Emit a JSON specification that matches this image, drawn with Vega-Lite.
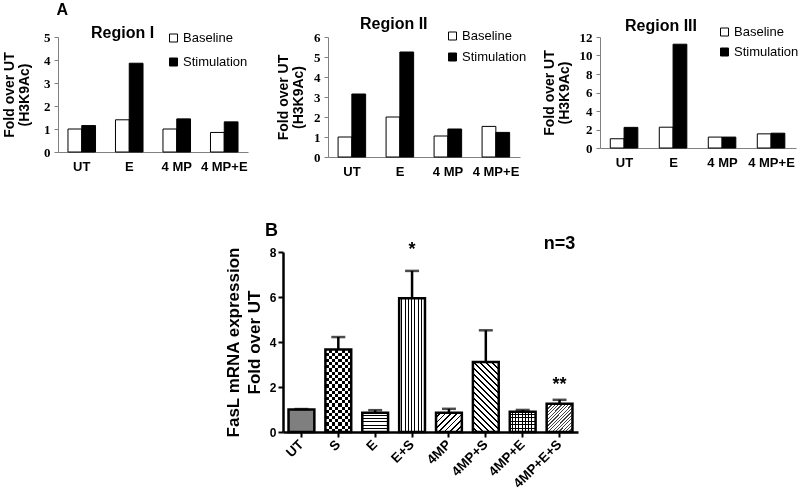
{
"$schema": "https://vega.github.io/schema/vega-lite/v6.json",
"background": "white",
"padding": {"left": 2, "top": 2, "right": 0, "bottom": 0},
"config": {"view": {"stroke": null}, "font": "Liberation Sans"},
"bounds": "flush",
"spacing": 215,
"vconcat": [
{
"bounds": "flush",
"spacing": 80,
"title": {"text": "A", "anchor": "start", "fontSize": 16, "font": "Liberation Sans", "fontWeight": "bold", "dx": 54, "offset": -2, "color": "black"},
"resolve": {"scale": {"fill": "independent"}, "legend": {"fill": "independent"}},
"hconcat": [
{
"width": 190, "height": 115,
"title": {"text": "Region I", "anchor": "start", "frame": "group", "dx": 33, "offset": -9.5, "fontSize": 16, "fontWeight": "bold", "font": "Liberation Sans", "color": "black"},
"data": {"values": [
{"cond": "UT", "series": "Baseline", "v": 1.0},
{"cond": "UT", "series": "Stimulation", "v": 1.15},
{"cond": "E", "series": "Baseline", "v": 1.4},
{"cond": "E", "series": "Stimulation", "v": 3.86},
{"cond": "4 MP", "series": "Baseline", "v": 1.0},
{"cond": "4 MP", "series": "Stimulation", "v": 1.44},
{"cond": "4 MP+E", "series": "Baseline", "v": 0.85},
{"cond": "4 MP+E", "series": "Stimulation", "v": 1.31}
]},
"mark": {"type": "bar", "stroke": "black", "strokeWidth": 1},
"encoding": {
"x": {"field": "cond", "type": "nominal", "sort": null, "scale": {"paddingInner": 0.42, "paddingOuter": 0.21},
"axis": {"title": null, "labelAngle": 0, "labelFont": "Liberation Sans", "labelFontWeight": "bold", "labelFontSize": 13, "labelColor": "black", "ticks": false, "labelPadding": 8, "domainColor": "#808080"}},
"xOffset": {"field": "series", "type": "nominal", "sort": null, "scale": {"paddingInner": 0}},
"y": {"field": "v", "type": "quantitative", "scale": {"domain": [0, 5], "nice": false},
"axis": {"values": [0, 1, 2, 3, 4, 5], "grid": false, "title": ["Fold over UT", "(H3K9Ac)"], "titleFont": "Liberation Sans", "titleFontSize": 14, "titleFontWeight": "bold", "titleLineHeight": 15, "titlePadding": 12, "titleColor": "black", "labelFont": "Liberation Serif", "labelFontWeight": "bold", "labelFontSize": 13, "labelColor": "black", "labelPadding": 4, "tickSize": 4, "tickColor": "#808080", "domainColor": "#808080"}},
"fill": {"field": "series", "type": "nominal", "scale": {"domain": ["Baseline", "Stimulation"], "range": ["white", "black"]},
"legend": {"orient": "none", "legendX": 109, "legendY": -5.5, "title": null, "symbolType": "square", "symbolSize": 64, "symbolStrokeColor": "black", "symbolStrokeWidth": 1, "labelFontSize": 13, "labelFont": "Liberation Sans", "labelColor": "black", "labelOffset": 3, "rowPadding": 10, "padding": 0}}
}
},
{
"width": 192, "height": 120,
"title": {"text": "Region II", "anchor": "start", "frame": "group", "dx": 32, "offset": -2.5, "fontSize": 16, "fontWeight": "bold", "font": "Liberation Sans", "color": "black"},
"data": {"values": [
{"cond": "UT", "series": "Baseline", "v": 1.0},
{"cond": "UT", "series": "Stimulation", "v": 3.15},
{"cond": "E", "series": "Baseline", "v": 2.0},
{"cond": "E", "series": "Stimulation", "v": 5.25},
{"cond": "4 MP", "series": "Baseline", "v": 1.05},
{"cond": "4 MP", "series": "Stimulation", "v": 1.4},
{"cond": "4 MP+E", "series": "Baseline", "v": 1.53},
{"cond": "4 MP+E", "series": "Stimulation", "v": 1.23}
]},
"mark": {"type": "bar", "stroke": "black", "strokeWidth": 1},
"encoding": {
"x": {"field": "cond", "type": "nominal", "sort": null, "scale": {"paddingInner": 0.42, "paddingOuter": 0.21},
"axis": {"title": null, "labelAngle": 0, "labelFont": "Liberation Sans", "labelFontWeight": "bold", "labelFontSize": 13, "labelColor": "black", "ticks": false, "labelPadding": 8, "domainColor": "#808080"}},
"xOffset": {"field": "series", "type": "nominal", "sort": null, "scale": {"paddingInner": 0}},
"y": {"field": "v", "type": "quantitative", "scale": {"domain": [0, 6], "nice": false},
"axis": {"values": [0, 1, 2, 3, 4, 5, 6], "grid": false, "title": ["Fold over UT", "(H3K9Ac)"], "titleFont": "Liberation Sans", "titleFontSize": 14, "titleFontWeight": "bold", "titleLineHeight": 15, "titlePadding": 8, "titleColor": "black", "labelFont": "Liberation Serif", "labelFontWeight": "bold", "labelFontSize": 13, "labelColor": "black", "labelPadding": 4, "tickSize": 4, "tickColor": "#808080", "domainColor": "#808080"}},
"fill": {"field": "series", "type": "nominal", "scale": {"domain": ["Baseline", "Stimulation"], "range": ["white", "black"]},
"legend": {"orient": "none", "legendX": 118, "legendY": -7.5, "title": null, "symbolType": "square", "symbolSize": 64, "symbolStrokeColor": "black", "symbolStrokeWidth": 1, "labelFontSize": 13, "labelFont": "Liberation Sans", "labelColor": "black", "labelOffset": 3, "rowPadding": 7, "padding": 0}}
}
},
{
"width": 196, "height": 111,
"title": {"text": "Region III", "anchor": "start", "frame": "group", "dx": 25, "offset": -8.5, "fontSize": 16, "fontWeight": "bold", "font": "Liberation Sans", "color": "black"},
"data": {"values": [
{"cond": "UT", "series": "Baseline", "v": 1.0},
{"cond": "UT", "series": "Stimulation", "v": 2.23},
{"cond": "E", "series": "Baseline", "v": 2.25},
{"cond": "E", "series": "Stimulation", "v": 11.22},
{"cond": "4 MP", "series": "Baseline", "v": 1.18},
{"cond": "4 MP", "series": "Stimulation", "v": 1.18},
{"cond": "4 MP+E", "series": "Baseline", "v": 1.53},
{"cond": "4 MP+E", "series": "Stimulation", "v": 1.6}
]},
"mark": {"type": "bar", "stroke": "black", "strokeWidth": 1},
"encoding": {
"x": {"field": "cond", "type": "nominal", "sort": null, "scale": {"paddingInner": 0.42, "paddingOuter": 0.21},
"axis": {"title": null, "labelAngle": 0, "labelFont": "Liberation Sans", "labelFontWeight": "bold", "labelFontSize": 13, "labelColor": "black", "ticks": false, "labelPadding": 8, "domainColor": "#808080"}},
"xOffset": {"field": "series", "type": "nominal", "sort": null, "scale": {"paddingInner": 0}},
"y": {"field": "v", "type": "quantitative", "scale": {"domain": [0, 12], "nice": false},
"axis": {"values": [0, 2, 4, 6, 8, 10, 12], "grid": false, "title": ["Fold over UT", "(H3K9Ac)"], "titleFont": "Liberation Sans", "titleFontSize": 14, "titleFontWeight": "bold", "titleLineHeight": 15, "titlePadding": 8, "titleColor": "black", "labelFont": "Liberation Serif", "labelFontWeight": "bold", "labelFontSize": 13, "labelColor": "black", "labelPadding": 4, "tickSize": 4, "tickColor": "#808080", "domainColor": "#808080"}},
"fill": {"field": "series", "type": "nominal", "scale": {"domain": ["Baseline", "Stimulation"], "range": ["white", "black"]},
"legend": {"orient": "none", "legendX": 118, "legendY": -11.5, "title": null, "symbolType": "square", "symbolSize": 64, "symbolStrokeColor": "black", "symbolStrokeWidth": 1, "labelFontSize": 13, "labelFont": "Liberation Sans", "labelColor": "black", "labelOffset": 3, "rowPadding": 6, "padding": 0}}
}
}
]
},
{
"bounds": "flush",
"spacing": 0,
"hconcat": [
{
"width": 225, "height": 10,
"data": {"values": [{}]},
"mark": {"type": "text", "opacity": 0},
"encoding": {"text": {"value": ""}}
},
{
"width": 295, "height": 180,
"title": {"text": "B", "anchor": "start", "frame": "group", "dx": -18, "offset": -5, "fontSize": 18, "fontWeight": "bold", "font": "Liberation Sans", "color": "black"},
"data": {"values": [
{"cond": "UT", "v": 1.0, "upper": 1.02},
{"cond": "S", "v": 3.67, "upper": 4.22},
{"cond": "E", "v": 0.86, "upper": 0.97},
{"cond": "E+S", "v": 5.94, "upper": 7.16},
{"cond": "4MP", "v": 0.86, "upper": 1.03},
{"cond": "4MP+S", "v": 3.11, "upper": 4.52},
{"cond": "4MP+E", "v": 0.9, "upper": 0.98},
{"cond": "4MP+E+S", "v": 1.26, "upper": 1.43}
]},
"encoding": {
"x": {"field": "cond", "type": "nominal", "sort": null, "scale": {"domain": ["UT", "S", "E", "E+S", "4MP", "4MP+S", "4MP+E", "4MP+E+S"], "paddingInner": 0.3, "paddingOuter": 0.15},
"axis": {"title": null, "labelAngle": -45, "labelAlign": "right", "labelBaseline": "middle", "labelFontWeight": "bold", "labelFontSize": 13.5, "labelColor": "black", "labelPadding": 5, "tickSize": 5, "tickWidth": 2, "tickColor": "black", "domainWidth": 2.5, "domainColor": "black"}},
"y": {"field": "v", "type": "quantitative", "scale": {"domain": [0, 8], "nice": false},
"title": ["FasL mRNA expression", "Fold over UT"],
"axis": {"values": [0, 2, 4, 6, 8], "grid": false, "titleFontSize": 17, "titleFontWeight": "bold", "titleLineHeight": 21, "titlePadding": 6, "titleColor": "black", "labelFontWeight": "bold", "labelFontSize": 12, "labelColor": "black", "labelPadding": 2, "tickSize": 5, "tickWidth": 2, "tickColor": "black", "domainWidth": 2.5, "domainColor": "black"}}
},
"layer": [
{"transform": [{"filter": "datum.cond == 'UT'"}], "mark": {"type": "bar", "fill": "#7f7f7f"}},
{"transform": [{"filter": "datum.cond == 'S'"}], "mark": {"type": "bar", "fill": {"gradient": "linear", "x1": 0, "y1": 0, "x2": 1, "y2": 0, "stops": [{"offset": 0, "color": "white"}, {"offset": 0.125, "color": "white"}, {"offset": 0.125, "color": "black"}, {"offset": 0.25, "color": "black"}, {"offset": 0.25, "color": "white"}, {"offset": 0.375, "color": "white"}, {"offset": 0.375, "color": "black"}, {"offset": 0.5, "color": "black"}, {"offset": 0.5, "color": "white"}, {"offset": 0.625, "color": "white"}, {"offset": 0.625, "color": "black"}, {"offset": 0.75, "color": "black"}, {"offset": 0.75, "color": "white"}, {"offset": 0.875, "color": "white"}, {"offset": 0.875, "color": "black"}, {"offset": 1, "color": "black"}]}}},
{"transform": [{"filter": "datum.cond == 'S'"}], "mark": {"type": "bar", "blend": "difference", "fill": {"gradient": "linear", "x1": 0, "y1": 0, "x2": 0, "y2": 1, "stops": [
{"offset": 0, "color": "rgba(0,0,0,0)"}, {"offset": 0.0385, "color": "rgba(0,0,0,0)"}, {"offset": 0.0385, "color": "white"}, {"offset": 0.0769, "color": "white"},
{"offset": 0.0769, "color": "rgba(0,0,0,0)"}, {"offset": 0.1154, "color": "rgba(0,0,0,0)"}, {"offset": 0.1154, "color": "white"}, {"offset": 0.1538, "color": "white"},
{"offset": 0.1538, "color": "rgba(0,0,0,0)"}, {"offset": 0.1923, "color": "rgba(0,0,0,0)"}, {"offset": 0.1923, "color": "white"}, {"offset": 0.2308, "color": "white"},
{"offset": 0.2308, "color": "rgba(0,0,0,0)"}, {"offset": 0.2692, "color": "rgba(0,0,0,0)"}, {"offset": 0.2692, "color": "white"}, {"offset": 0.3077, "color": "white"},
{"offset": 0.3077, "color": "rgba(0,0,0,0)"}, {"offset": 0.3462, "color": "rgba(0,0,0,0)"}, {"offset": 0.3462, "color": "white"}, {"offset": 0.3846, "color": "white"},
{"offset": 0.3846, "color": "rgba(0,0,0,0)"}, {"offset": 0.4231, "color": "rgba(0,0,0,0)"}, {"offset": 0.4231, "color": "white"}, {"offset": 0.4615, "color": "white"},
{"offset": 0.4615, "color": "rgba(0,0,0,0)"}, {"offset": 0.5, "color": "rgba(0,0,0,0)"}, {"offset": 0.5, "color": "white"}, {"offset": 0.5385, "color": "white"},
{"offset": 0.5385, "color": "rgba(0,0,0,0)"}, {"offset": 0.5769, "color": "rgba(0,0,0,0)"}, {"offset": 0.5769, "color": "white"}, {"offset": 0.6154, "color": "white"},
{"offset": 0.6154, "color": "rgba(0,0,0,0)"}, {"offset": 0.6538, "color": "rgba(0,0,0,0)"}, {"offset": 0.6538, "color": "white"}, {"offset": 0.6923, "color": "white"},
{"offset": 0.6923, "color": "rgba(0,0,0,0)"}, {"offset": 0.7308, "color": "rgba(0,0,0,0)"}, {"offset": 0.7308, "color": "white"}, {"offset": 0.7692, "color": "white"},
{"offset": 0.7692, "color": "rgba(0,0,0,0)"}, {"offset": 0.8077, "color": "rgba(0,0,0,0)"}, {"offset": 0.8077, "color": "white"}, {"offset": 0.8462, "color": "white"},
{"offset": 0.8462, "color": "rgba(0,0,0,0)"}, {"offset": 0.8846, "color": "rgba(0,0,0,0)"}, {"offset": 0.8846, "color": "white"}, {"offset": 0.9231, "color": "white"},
{"offset": 0.9231, "color": "rgba(0,0,0,0)"}, {"offset": 0.9615, "color": "rgba(0,0,0,0)"}, {"offset": 0.9615, "color": "white"}, {"offset": 1, "color": "white"}]}}},
{"transform": [{"filter": "datum.cond == 'E'"}], "mark": {"type": "bar", "fill": {"gradient": "linear", "x1": 0, "y1": 0, "x2": 0, "y2": 1, "stops": [
{"offset": 0, "color": "white"}, {"offset": 0.1167, "color": "white"}, {"offset": 0.1167, "color": "black"}, {"offset": 0.1667, "color": "black"},
{"offset": 0.1667, "color": "white"}, {"offset": 0.2833, "color": "white"}, {"offset": 0.2833, "color": "black"}, {"offset": 0.3333, "color": "black"},
{"offset": 0.3333, "color": "white"}, {"offset": 0.45, "color": "white"}, {"offset": 0.45, "color": "black"}, {"offset": 0.5, "color": "black"},
{"offset": 0.5, "color": "white"}, {"offset": 0.6167, "color": "white"}, {"offset": 0.6167, "color": "black"}, {"offset": 0.6667, "color": "black"},
{"offset": 0.6667, "color": "white"}, {"offset": 0.7833, "color": "white"}, {"offset": 0.7833, "color": "black"}, {"offset": 0.8333, "color": "black"},
{"offset": 0.8333, "color": "white"}, {"offset": 0.95, "color": "white"}, {"offset": 0.95, "color": "black"}, {"offset": 1, "color": "black"}]}}},
{"transform": [{"filter": "datum.cond == 'E+S' || datum.cond == '4MP+E'"}], "mark": {"type": "bar", "fill": {"gradient": "linear", "x1": 0, "y1": 0, "x2": 1, "y2": 0, "stops": [
{"offset": 0, "color": "white"}, {"offset": 0.0875, "color": "white"}, {"offset": 0.0875, "color": "black"}, {"offset": 0.125, "color": "black"},
{"offset": 0.125, "color": "white"}, {"offset": 0.2125, "color": "white"}, {"offset": 0.2125, "color": "black"}, {"offset": 0.25, "color": "black"},
{"offset": 0.25, "color": "white"}, {"offset": 0.3375, "color": "white"}, {"offset": 0.3375, "color": "black"}, {"offset": 0.375, "color": "black"},
{"offset": 0.375, "color": "white"}, {"offset": 0.4625, "color": "white"}, {"offset": 0.4625, "color": "black"}, {"offset": 0.5, "color": "black"},
{"offset": 0.5, "color": "white"}, {"offset": 0.5875, "color": "white"}, {"offset": 0.5875, "color": "black"}, {"offset": 0.625, "color": "black"},
{"offset": 0.625, "color": "white"}, {"offset": 0.7125, "color": "white"}, {"offset": 0.7125, "color": "black"}, {"offset": 0.75, "color": "black"},
{"offset": 0.75, "color": "white"}, {"offset": 0.8375, "color": "white"}, {"offset": 0.8375, "color": "black"}, {"offset": 0.875, "color": "black"},
{"offset": 0.875, "color": "white"}, {"offset": 0.9625, "color": "white"}, {"offset": 0.9625, "color": "black"}, {"offset": 1, "color": "black"}]}}},
{"transform": [{"filter": "datum.cond == '4MP+E'"}], "mark": {"type": "bar", "fill": {"gradient": "linear", "x1": 0, "y1": 0, "x2": 0, "y2": 1, "stops": [
{"offset": 0, "color": "rgba(0,0,0,0)"}, {"offset": 0.1167, "color": "rgba(0,0,0,0)"}, {"offset": 0.1167, "color": "black"}, {"offset": 0.1667, "color": "black"},
{"offset": 0.1667, "color": "rgba(0,0,0,0)"}, {"offset": 0.2833, "color": "rgba(0,0,0,0)"}, {"offset": 0.2833, "color": "black"}, {"offset": 0.3333, "color": "black"},
{"offset": 0.3333, "color": "rgba(0,0,0,0)"}, {"offset": 0.45, "color": "rgba(0,0,0,0)"}, {"offset": 0.45, "color": "black"}, {"offset": 0.5, "color": "black"},
{"offset": 0.5, "color": "rgba(0,0,0,0)"}, {"offset": 0.6167, "color": "rgba(0,0,0,0)"}, {"offset": 0.6167, "color": "black"}, {"offset": 0.6667, "color": "black"},
{"offset": 0.6667, "color": "rgba(0,0,0,0)"}, {"offset": 0.7833, "color": "rgba(0,0,0,0)"}, {"offset": 0.7833, "color": "black"}, {"offset": 0.8333, "color": "black"},
{"offset": 0.8333, "color": "rgba(0,0,0,0)"}, {"offset": 0.95, "color": "rgba(0,0,0,0)"}, {"offset": 0.95, "color": "black"}, {"offset": 1, "color": "black"}]}}},
{"transform": [{"filter": "datum.cond == '4MP'"}], "mark": {"type": "bar", "fill": {"gradient": "linear", "x1": 0, "y1": 0, "x2": 1.12, "y2": 0.84, "stops": [
{"offset": 0, "color": "white"}, {"offset": 0.0875, "color": "white"}, {"offset": 0.0875, "color": "black"}, {"offset": 0.125, "color": "black"},
{"offset": 0.125, "color": "white"}, {"offset": 0.2125, "color": "white"}, {"offset": 0.2125, "color": "black"}, {"offset": 0.25, "color": "black"},
{"offset": 0.25, "color": "white"}, {"offset": 0.3375, "color": "white"}, {"offset": 0.3375, "color": "black"}, {"offset": 0.375, "color": "black"},
{"offset": 0.375, "color": "white"}, {"offset": 0.4625, "color": "white"}, {"offset": 0.4625, "color": "black"}, {"offset": 0.5, "color": "black"},
{"offset": 0.5, "color": "white"}, {"offset": 0.5875, "color": "white"}, {"offset": 0.5875, "color": "black"}, {"offset": 0.625, "color": "black"},
{"offset": 0.625, "color": "white"}, {"offset": 0.7125, "color": "white"}, {"offset": 0.7125, "color": "black"}, {"offset": 0.75, "color": "black"},
{"offset": 0.75, "color": "white"}, {"offset": 0.8375, "color": "white"}, {"offset": 0.8375, "color": "black"}, {"offset": 0.875, "color": "black"},
{"offset": 0.875, "color": "white"}, {"offset": 0.9625, "color": "white"}, {"offset": 0.9625, "color": "black"}, {"offset": 1, "color": "black"}]}}},
{"transform": [{"filter": "datum.cond == '4MP+S'"}], "mark": {"type": "bar", "fill": {"gradient": "linear", "x1": 0, "y1": 1, "x2": 0.448, "y2": -0.205, "stops": [
{"offset": 0, "color": "white"}, {"offset": 0.04, "color": "white"}, {"offset": 0.04, "color": "black"}, {"offset": 0.0625, "color": "black"},
{"offset": 0.0625, "color": "white"}, {"offset": 0.1025, "color": "white"}, {"offset": 0.1025, "color": "black"}, {"offset": 0.125, "color": "black"},
{"offset": 0.125, "color": "white"}, {"offset": 0.165, "color": "white"}, {"offset": 0.165, "color": "black"}, {"offset": 0.1875, "color": "black"},
{"offset": 0.1875, "color": "white"}, {"offset": 0.2275, "color": "white"}, {"offset": 0.2275, "color": "black"}, {"offset": 0.25, "color": "black"},
{"offset": 0.25, "color": "white"}, {"offset": 0.29, "color": "white"}, {"offset": 0.29, "color": "black"}, {"offset": 0.3125, "color": "black"},
{"offset": 0.3125, "color": "white"}, {"offset": 0.3525, "color": "white"}, {"offset": 0.3525, "color": "black"}, {"offset": 0.375, "color": "black"},
{"offset": 0.375, "color": "white"}, {"offset": 0.415, "color": "white"}, {"offset": 0.415, "color": "black"}, {"offset": 0.4375, "color": "black"},
{"offset": 0.4375, "color": "white"}, {"offset": 0.4775, "color": "white"}, {"offset": 0.4775, "color": "black"}, {"offset": 0.5, "color": "black"},
{"offset": 0.5, "color": "white"}, {"offset": 0.54, "color": "white"}, {"offset": 0.54, "color": "black"}, {"offset": 0.5625, "color": "black"},
{"offset": 0.5625, "color": "white"}, {"offset": 0.6025, "color": "white"}, {"offset": 0.6025, "color": "black"}, {"offset": 0.625, "color": "black"},
{"offset": 0.625, "color": "white"}, {"offset": 0.665, "color": "white"}, {"offset": 0.665, "color": "black"}, {"offset": 0.6875, "color": "black"},
{"offset": 0.6875, "color": "white"}, {"offset": 0.7275, "color": "white"}, {"offset": 0.7275, "color": "black"}, {"offset": 0.75, "color": "black"},
{"offset": 0.75, "color": "white"}, {"offset": 0.79, "color": "white"}, {"offset": 0.79, "color": "black"}, {"offset": 0.8125, "color": "black"},
{"offset": 0.8125, "color": "white"}, {"offset": 0.8525, "color": "white"}, {"offset": 0.8525, "color": "black"}, {"offset": 0.875, "color": "black"},
{"offset": 0.875, "color": "white"}, {"offset": 0.915, "color": "white"}, {"offset": 0.915, "color": "black"}, {"offset": 0.9375, "color": "black"},
{"offset": 0.9375, "color": "white"}, {"offset": 0.9775, "color": "white"}, {"offset": 0.9775, "color": "black"}, {"offset": 1, "color": "black"}]}}},
{"transform": [{"filter": "datum.cond == '4MP+E+S'"}], "mark": {"type": "bar", "fill": {"gradient": "linear", "x1": 0, "y1": 0, "x2": 0.962, "y2": 1.036, "stops": [
{"offset": 0, "color": "white"}, {"offset": 0.04, "color": "white"}, {"offset": 0.04, "color": "#444"}, {"offset": 0.0625, "color": "#444"},
{"offset": 0.0625, "color": "white"}, {"offset": 0.1025, "color": "white"}, {"offset": 0.1025, "color": "#444"}, {"offset": 0.125, "color": "#444"},
{"offset": 0.125, "color": "white"}, {"offset": 0.165, "color": "white"}, {"offset": 0.165, "color": "#444"}, {"offset": 0.1875, "color": "#444"},
{"offset": 0.1875, "color": "white"}, {"offset": 0.2275, "color": "white"}, {"offset": 0.2275, "color": "#444"}, {"offset": 0.25, "color": "#444"},
{"offset": 0.25, "color": "white"}, {"offset": 0.29, "color": "white"}, {"offset": 0.29, "color": "#444"}, {"offset": 0.3125, "color": "#444"},
{"offset": 0.3125, "color": "white"}, {"offset": 0.3525, "color": "white"}, {"offset": 0.3525, "color": "#444"}, {"offset": 0.375, "color": "#444"},
{"offset": 0.375, "color": "white"}, {"offset": 0.415, "color": "white"}, {"offset": 0.415, "color": "#444"}, {"offset": 0.4375, "color": "#444"},
{"offset": 0.4375, "color": "white"}, {"offset": 0.4775, "color": "white"}, {"offset": 0.4775, "color": "#444"}, {"offset": 0.5, "color": "#444"},
{"offset": 0.5, "color": "white"}, {"offset": 0.54, "color": "white"}, {"offset": 0.54, "color": "#444"}, {"offset": 0.5625, "color": "#444"},
{"offset": 0.5625, "color": "white"}, {"offset": 0.6025, "color": "white"}, {"offset": 0.6025, "color": "#444"}, {"offset": 0.625, "color": "#444"},
{"offset": 0.625, "color": "white"}, {"offset": 0.665, "color": "white"}, {"offset": 0.665, "color": "#444"}, {"offset": 0.6875, "color": "#444"},
{"offset": 0.6875, "color": "white"}, {"offset": 0.7275, "color": "white"}, {"offset": 0.7275, "color": "#444"}, {"offset": 0.75, "color": "#444"},
{"offset": 0.75, "color": "white"}, {"offset": 0.79, "color": "white"}, {"offset": 0.79, "color": "#444"}, {"offset": 0.8125, "color": "#444"},
{"offset": 0.8125, "color": "white"}, {"offset": 0.8525, "color": "white"}, {"offset": 0.8525, "color": "#444"}, {"offset": 0.875, "color": "#444"},
{"offset": 0.875, "color": "white"}, {"offset": 0.915, "color": "white"}, {"offset": 0.915, "color": "#444"}, {"offset": 0.9375, "color": "#444"},
{"offset": 0.9375, "color": "white"}, {"offset": 0.9775, "color": "white"}, {"offset": 0.9775, "color": "#444"}, {"offset": 1, "color": "#444"}]}}},
{"mark": {"type": "bar", "fillOpacity": 0, "stroke": "black", "strokeWidth": 2.5}},
{"mark": {"type": "rule", "strokeWidth": 2.5, "color": "black"}, "encoding": {"y2": {"field": "upper"}}},
{"mark": {"type": "tick", "orient": "horizontal", "size": 14, "thickness": 2.5, "color": "black"}, "encoding": {"y": {"field": "upper", "type": "quantitative", "title": ["FasL mRNA expression", "Fold over UT"]}}},
{"data": {"values": [
{"cond": "E+S", "v": 7.87, "label": "*"},
{"cond": "4MP+E+S", "v": 1.87, "label": "**"},
{"cond": "4MP+E+S", "v": 8.13, "label": "n=3"}
]},
"mark": {"type": "text", "fontSize": 18, "fontWeight": "bold", "baseline": "alphabetic", "color": "black"},
"encoding": {"text": {"field": "label"}}}
]
}
]
}
]
}
